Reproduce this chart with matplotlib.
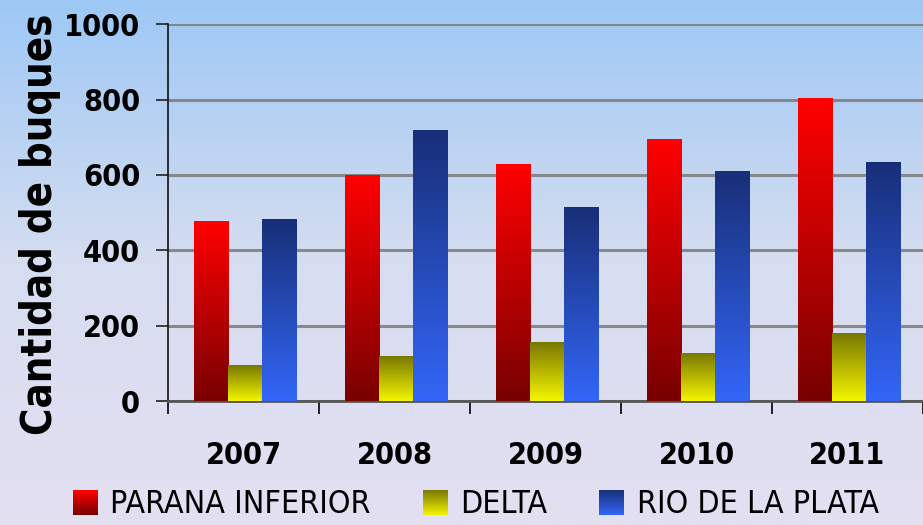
import numpy as np
import matplotlib
matplotlib.use('Agg')
import matplotlib.pyplot as plt
from matplotlib.colors import LinearSegmentedColormap
from matplotlib.legend_handler import HandlerBase
from matplotlib.image import BboxImage
from matplotlib.transforms import Bbox, TransformedBbox
from matplotlib.patches import Patch

plt.rcParams['font.family'] = ['DejaVu Sans']
plt.rcParams['font.stretch'] = 'condensed'

# data
years = ['2007', '2008', '2009', '2010', '2011']
parana_inferior = [477, 599, 628, 694, 803]
delta = [95, 119, 156, 125, 180]
rio_de_la_plata = [482, 718, 514, 610, 633]
series_names = ['PARANA INFERIOR', 'DELTA', 'RIO DE LA PLATA']

# gradient colours, (top, bottom)
grads = [
    ('#ff0000', '#780000'),
    ('#787800', '#f5f500'),
    ('#182f78', '#3366f8'),
]


def grad_cmap(top, bottom):
    return LinearSegmentedColormap.from_list('g', [bottom, top])


fig = plt.figure(figsize=(9.23, 5.25), dpi=100)

# background gradient over the whole figure
bg = fig.add_axes([0, 0, 1, 1], zorder=-10)
bg_cmap = LinearSegmentedColormap.from_list('bg', ['#e3e0f2', '#d6ddf0', '#9dc8f5'])
bg.imshow(np.linspace(0, 1, 256).reshape(-1, 1), aspect='auto', cmap=bg_cmap,
          origin='lower', extent=[0, 1, 0, 1])
bg.axis('off')

ax = fig.add_axes([0.182, 0.236, 0.818, 0.718])
ax.patch.set_alpha(0)

x = np.arange(len(years))
w = 0.227
all_series = [parana_inferior, delta, rio_de_la_plata]
grad_col = np.linspace(0, 1, 256).reshape(-1, 1)
for i, vals in enumerate(all_series):
    bars = ax.bar(x + (i - 1) * w + 0.01, vals, w, color='none', zorder=3)
    cm = grad_cmap(*grads[i])
    for b in bars:
        x0, y0 = b.get_x(), b.get_y()
        ax.imshow(grad_col, aspect='auto', cmap=cm, origin='lower',
                  extent=[x0, x0 + b.get_width(), y0, y0 + b.get_height()], zorder=3)

ax.set_xlim(-0.5, 4.5)
ax.set_ylim(0, 1000)

ax.set_yticks(range(0, 1001, 200))
ax.yaxis.grid(True, color='#808080', linewidth=2.2, alpha=0.9, zorder=1)
ax.set_axisbelow(True)
ax.tick_params(axis='y', direction='out', length=9, width=1.2, color='#222222',
               labelsize=22, pad=11)
for t in ax.get_yticklabels():
    t.set_fontweight('bold')

ax.set_xticks(np.arange(-0.5, 5, 1))
ax.set_xticklabels([])
ax.tick_params(axis='x', which='major', direction='out', length=9, width=1.2, color='black')
ax.set_xticks(x, minor=True)
ax.set_xticklabels(years, minor=True, fontsize=22, fontweight='bold')
ax.tick_params(axis='x', which='minor', length=0, pad=29)

ax.set_ylabel('Cantidad de buques', fontsize=30, fontweight='bold')
ax.yaxis.set_label_coords(-0.142, 0.47)

for s in ['top', 'right']:
    ax.spines[s].set_visible(False)
ax.spines['left'].set_color('#111111')
ax.spines['left'].set_linewidth(1.2)
ax.spines['bottom'].set_color('#555555')
ax.spines['bottom'].set_linewidth(2)
ax.set_xlim(-0.5, 4.5)
ax.set_ylim(0, 1000)


class GradHandler(HandlerBase):
    def __init__(self, cmap):
        super().__init__()
        self.cmap = cmap

    def create_artists(self, legend, orig_handle, xdescent, ydescent, width, height,
                       fontsize, trans):
        s = height * 1.1
        bb = Bbox.from_bounds(-xdescent + width - s, -ydescent - 0.1 * height, s, s)
        img = BboxImage(TransformedBbox(bb, trans), cmap=self.cmap, origin='lower')
        img.set_data(grad_col)
        return [img]


handles = [Patch(label=n) for n in series_names]
hmap = {h: GradHandler(grad_cmap(*grads[i])) for i, h in enumerate(handles)}
leg = fig.legend(handles=handles, handler_map=hmap, loc='lower center',
                 bbox_to_anchor=(0.515, -0.045), ncol=3, frameon=False, fontsize=23,
                 handlelength=0.8, handletextpad=0.4, columnspacing=1.6)

fig.savefig('out.png', dpi=100)
